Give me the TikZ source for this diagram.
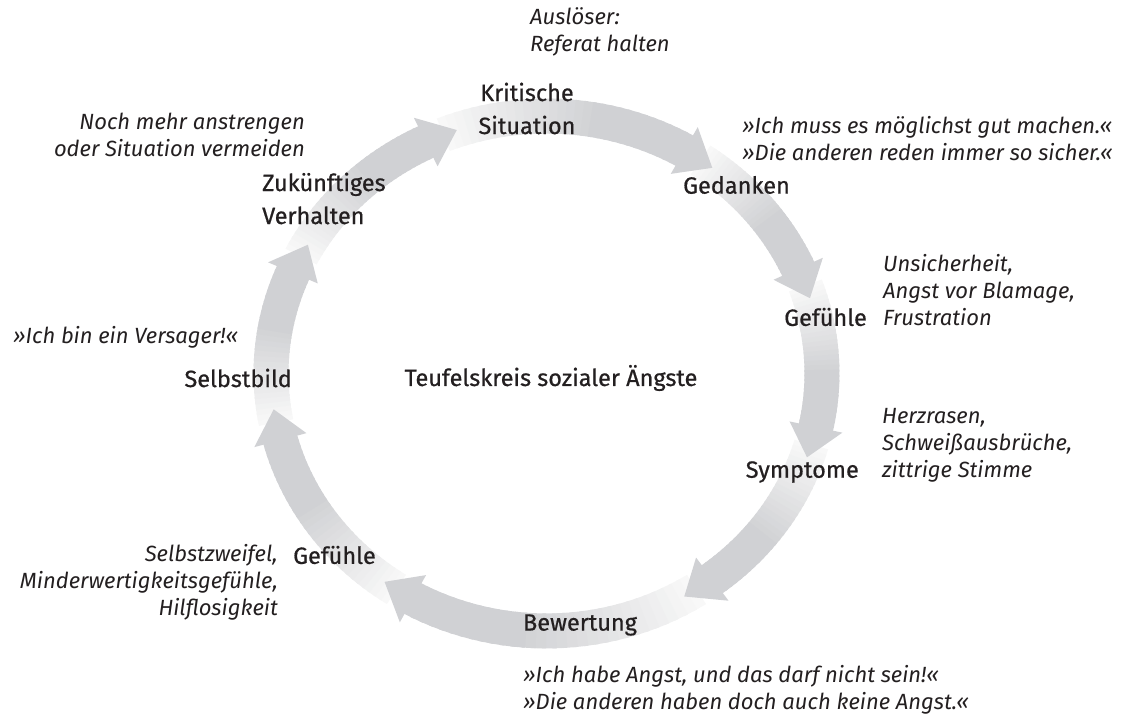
\documentclass[tikz,border=0pt]{standalone}
\usepackage{fontspec}
\setmainfont{Fira Sans}
\newfontfamily\labfont{Fira Sans}[FakeBold=0.7]
\usepackage{tikz}
\usepackage{xcolor}
\usetikzlibrary{calc}

\definecolor{ringdark}{RGB}{208,209,212}
\definecolor{ringlight}{RGB}{248,248,248}
\definecolor{txt}{RGB}{35,31,32}

\newcommand{\ringX}{546.5}
\newcommand{\ringY}{346.5}

\begin{document}
\begin{tikzpicture}[x=1pt, y=1pt,
  lab/.style={font=\labfont\fontsize{23.5}{33}\selectfont, text=txt, inner sep=0pt},
  note/.style={font=\fontsize{22}{27}\selectfont\itshape, text=txt, inner sep=0pt, align=left}]
\useasboundingbox (0,0) rectangle (1124,720);

% ring bands, light at the tail
\foreach \a/\b in {191/150, 153/109, 112/53, 56/17, 20/-19, -16/-60, -57/-126, -123/-172}{
  \foreach \k in {0,...,29}{
    \pgfmathsetmacro{\ta}{\a+(\b+7-\a)*\k/30}
    \pgfmathsetmacro{\tb}{\a+(\b+7-\a)*(\k+1.4)/30}
    \pgfmathtruncatemacro{\p}{min(100,160*\k/29)}
    \fill[ringdark!\p!ringlight]
      ({\ringX+293*cos(\ta)},{\ringY+275*sin(\ta)}) -- ({\ringX+293*cos(\tb)},{\ringY+275*sin(\tb)})
      -- ({\ringX+258*cos(\tb)},{\ringY+240*sin(\tb)}) -- ({\ringX+258*cos(\ta)},{\ringY+240*sin(\ta)}) -- cycle;
  }
}
% arrow heads
\foreach \b in {150, 109, 53, 17, -19, -60, -126, -172}{
  \coordinate (tip) at ({\ringX+275.5*cos(\b)},{\ringY+257.5*sin(\b)});
  \fill[ringdark] ({\ringX+302.5*cos(\b+7)},{\ringY+284.5*sin(\b+7)}) -- (tip)
    -- ({\ringX+248.5*cos(\b+7)},{\ringY+230.5*sin(\b+7)}) -- cycle;
}

\node[lab, align=center] (krit) at (527,611.5) {Kritische\\Situation};
\node[note, anchor=west] (ausl) at (530,688.5) {Auslöser:\\Referat halten};
\node[lab] (ged) at (736.5,535) {Gedanken};
\node[note, anchor=west] (gedq) at (742,581) {»Ich muss es möglichst gut machen.«\\»Die anderen reden immer so sicher.«};
\node[lab, anchor=east] (gef1) at (867,403) {Gefühle};
\node[note, anchor=west] (gef1q) at (883,430) {Unsicherheit,\\Angst vor Blamage,\\Frustration};
\node[lab, anchor=east] (sym) at (859,248) {Symptome};
\node[note, anchor=west] (symq) at (882,275) {Herzrasen,\\Schweißausbrüche,\\zittrige Stimme};
\node[lab] (bew) at (580,95) {Bewertung};
\node[note, anchor=west] (bewq) at (523,30) {»Ich habe Angst, und das darf nicht sein!«\\»Die anderen haben doch auch keine Angst.«};
\node[lab, anchor=west] (gef2) at (293,165) {Gefühle};
\node[note, anchor=east, align=right] (gef2q) at (278,138) {Selbstzweifel,\\Minderwertigkeitsgefühle,\\Hilflosigkeit};
\node[lab, anchor=east] (selb) at (292,342) {Selbstbild};
\node[note, anchor=west] (selbq) at (13,383) {»Ich bin ein Versager!«};
\node[lab, anchor=west, align=left] (zuk) at (262,521.5) {Zukünftiges\\Verhalten};
\node[note, anchor=east, align=right] (zukq) at (305,585) {Noch mehr anstrengen\\oder Situation vermeiden};
\node[lab] (title) at (551,342) {Teufelskreis sozialer Ängste};
\end{tikzpicture}
\end{document}
